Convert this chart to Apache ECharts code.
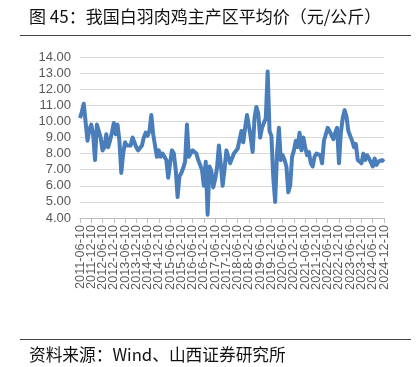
<!DOCTYPE html>
<html><head><meta charset="utf-8">
<script src="https://cdn.jsdelivr.net/npm/echarts@6/dist/echarts.min.js"></script>
<style>
html,body{margin:0;padding:0;background:#fff;}
#wrap{position:relative;width:419px;height:367px;}
#chart{position:absolute;left:0;top:0;width:419px;height:367px;}
.rule{position:absolute;left:20px;width:391px;height:0;border-top:1.3px solid #444;}
.txt{position:absolute;left:29px;font-family:"Noto Sans CJK SC",sans-serif;color:#111;white-space:nowrap;}
</style>
</head><body>
<div id="wrap">
<div id="chart"></div>
<div class="txt" style="top:5px;font-size:17px;line-height:22px;">图 45：我国白羽肉鸡主产区平均价（元/公斤）</div>
<div class="rule" style="top:35px;"></div>
<div class="rule" style="top:339px;"></div>
<div class="txt" style="top:343px;font-size:16.7px;line-height:22px;">资料来源：Wind、山西证券研究所</div>
</div>
<script>
// monthly categories 2011-06 .. 2024-12
const startYear = 2011, startMonth = 6, monthCount = 163;
const categories = [];
for (let i = 0; i < monthCount; i++) {
  const t = startMonth - 1 + i;
  const y = startYear + Math.floor(t / 12);
  const m = (t % 12) + 1;
  categories.push(y + '-' + (m < 10 ? '0' + m : m) + '-10');
}
const prices = [
  10.2,10.6,11.1,11.0,8.8,9.5,9.8,9.2,7.6,9.8,9.4,9.0,
  8.2,8.4,9.2,8.4,8.8,9.3,9.9,9.2,9.8,8.8,6.8,8.0,
  8.7,8.5,8.6,8.5,9.0,8.9,8.4,8.2,8.1,8.5,9.0,9.3,
  9.1,9.4,10.4,9.2,8.5,7.8,8.2,7.8,8.0,7.9,7.6,6.5,
  7.4,8.2,8.0,7.0,5.3,6.6,6.8,7.1,7.5,9.8,7.8,8.0,
  8.2,8.3,8.0,7.6,7.3,7.0,6.0,7.5,4.2,7.2,6.9,5.9,
  6.4,7.1,8.5,7.4,6.0,7.0,8.2,8.2,7.4,7.3,8.0,8.0,
  8.3,8.4,9.4,8.7,9.6,10.4,10.3,9.0,8.1,10.2,10.9,10.5,
  9.0,9.6,9.6,10.2,13.1,9.4,9.1,6.5,5.0,8.0,9.6,7.6,
  7.9,7.6,7.2,5.6,6.0,7.8,8.2,8.8,8.4,9.3,8.2,9.0,
  8.4,7.9,8.1,7.4,7.2,7.8,8.0,8.0,7.9,7.4,8.8,9.2,
  9.6,9.4,9.4,8.9,9.3,9.6,7.4,9.3,10.2,10.7,10.3,9.4,
  9.1,8.8,8.4,8.6,7.6,7.5,7.4,8.0,7.6,7.9,7.7,7.8,
  7.2,7.7,7.3,7.5,7.6,7.6,7.5
];
const yMin = 4, yMax = 14, yStep = 1;
const labelEvery = 6;

const labelStyle = {rotate: 90, margin: 7, color: '#595959', fontSize: 12.7,
  fontFamily: 'Liberation Sans, Arial, sans-serif', showMinLabel: true, showMaxLabel: true, hideOverlap: false};

const chart = echarts.init(document.getElementById('chart'), null, {renderer:'canvas'});
chart.setOption({
  animation: false,
  grid: {left: 80, right: 35, top: 57, bottom: 149, containLabel: false},
  xAxis: [{
    type: 'category',
    position: 'bottom',
    data: categories,
    boundaryGap: false,
    axisLine: {show: true, lineStyle: {color: '#bfbfbf', width: 1}},
    axisTick: {show: true, interval: (i) => i % labelEvery === 0, length: 5, lineStyle: {color: '#bfbfbf'}},
    axisLabel: Object.assign({interval: (i) => i % (labelEvery * 2) === 0}, labelStyle),
    splitLine: {show: false}
  }, {
    type: 'category',
    position: 'bottom',
    offset: 0,
    data: categories,
    boundaryGap: false,
    axisLine: {show: false},
    axisTick: {show: false},
    axisLabel: Object.assign({interval: (i) => i % (labelEvery * 2) === labelEvery}, labelStyle),
    splitLine: {show: false}
  }],
  yAxis: {
    type: 'value',
    min: yMin, max: yMax, interval: yStep,
    axisLine: {show: false},
    axisTick: {show: false},
    axisLabel: {color: '#595959', fontSize: 13, fontFamily: 'Liberation Sans, Arial, sans-serif', margin: 9,
      formatter: v => v.toFixed(2)},
    splitLine: {lineStyle: {color: '#d9d9d9', width: 1}}
  },
  series: [{
    type: 'line',
    xAxisIndex: 0,
    data: prices,
    showSymbol: false,
    lineStyle: {color: '#4a7ebb', width: 4, join: 'round'},
    itemStyle: {color: '#4a7ebb'}
  }]
});
</script>
</body></html>
